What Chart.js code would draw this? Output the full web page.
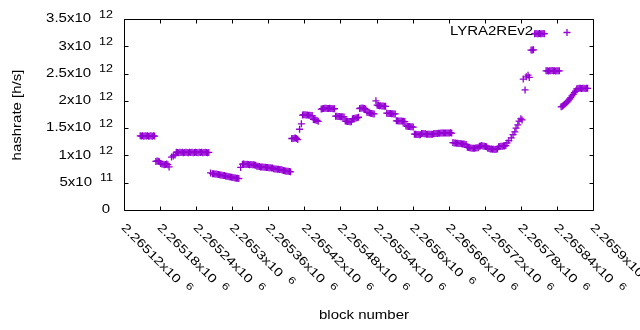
<!DOCTYPE html>
<html>
<head>
<meta charset="utf-8">
<script src="https://cdn.jsdelivr.net/npm/chart.js@4.4.0/dist/chart.umd.min.js"></script>
<style>
  html, body { margin: 0; padding: 0; background: #fff; }
  canvas { display: block; }
</style>
</head>
<body>
<canvas id="chart" width="640" height="330"></canvas>
<script>
// block numbers and hashrate (in units of 10^12 h/s)
const blocks = [
    2265147, 2265149, 2265151, 2265153, 2265155, 2265157, 2265159, 2265161, 2265163, 2265165, 2265167, 2265169, 2265171,
    2265173, 2265175, 2265177, 2265179,
    2265181, 2265183, 2265185, 2265187, 2265189, 2265191, 2265193, 2265195,
    2265199, 2265202, 2265205,
    2265207, 2265209, 2265211, 2265213, 2265215, 2265217, 2265219, 2265221, 2265223, 2265225, 2265227, 2265229, 2265231, 2265233,
    2265235, 2265237, 2265239, 2265241, 2265243, 2265245, 2265247, 2265249, 2265251, 2265253, 2265255, 2265257, 2265259, 2265261,
    2265264,
    2265267, 2265269, 2265271, 2265273, 2265275, 2265277, 2265279, 2265281, 2265283, 2265285, 2265287, 2265289,
    2265291, 2265293, 2265295, 2265297, 2265299, 2265301, 2265303, 2265305, 2265307, 2265309, 2265311,
    2265314,
    2265317, 2265319, 2265321, 2265323, 2265325, 2265327, 2265329, 2265331, 2265333, 2265335, 2265337, 2265339,
    2265341, 2265343, 2265345, 2265347, 2265349, 2265351, 2265353, 2265355, 2265357, 2265359, 2265361, 2265363, 2265365, 2265367,
    2265369, 2265371, 2265373, 2265375, 2265377, 2265379, 2265381, 2265383,
    2265385, 2265387, 2265389, 2265391, 2265393, 2265395, 2265397,
    2265399, 2265401, 2265403, 2265405, 2265407, 2265409,
    2265412, 2265415,
    2265417, 2265419, 2265421, 2265423, 2265425, 2265427, 2265429, 2265431, 2265433,
    2265435, 2265437, 2265439, 2265441, 2265443,
    2265448, 2265450, 2265452, 2265454, 2265456, 2265458, 2265460, 2265462, 2265464, 2265466, 2265468, 2265470,
    2265472, 2265474, 2265476, 2265478, 2265480, 2265482, 2265484, 2265486,
    2265488, 2265490, 2265492, 2265494, 2265496, 2265498,
    2265500, 2265502, 2265504, 2265506, 2265508, 2265510,
    2265512, 2265514, 2265516, 2265518, 2265520, 2265522,
    2265524, 2265526, 2265528, 2265530, 2265532, 2265534, 2265536,
    2265539, 2265541, 2265543, 2265545, 2265547, 2265549, 2265551, 2265553, 2265555,
    2265557, 2265559, 2265561, 2265563, 2265565, 2265567, 2265569, 2265571,
    2265573, 2265575, 2265577, 2265579, 2265581, 2265583, 2265585, 2265587,
    2265589, 2265591, 2265593, 2265595, 2265597, 2265599, 2265601,
    2265603, 2265605, 2265607, 2265609, 2265611, 2265613,
    2265615, 2265617, 2265619, 2265621, 2265623, 2265625, 2265627, 2265629, 2265631, 2265633, 2265635, 2265637, 2265639,
    2265641, 2265643, 2265645, 2265647, 2265649, 2265651, 2265653, 2265655, 2265657, 2265659, 2265661, 2265663, 2265665,
    2265667, 2265669, 2265671, 2265673, 2265675, 2265677, 2265679, 2265681, 2265683, 2265685, 2265687, 2265689,
    2265691, 2265693, 2265695, 2265697, 2265699, 2265701, 2265703, 2265705, 2265707, 2265709,
    2265711, 2265713, 2265715, 2265717, 2265719, 2265721, 2265723,
    2265725, 2265727, 2265729, 2265731, 2265733, 2265735, 2265737, 2265739, 2265741,
    2265743, 2265745, 2265747, 2265749, 2265751, 2265753, 2265755,
    2265757, 2265760, 2265764, 2265767, 2265770, 2265772, 2265775, 2265777, 2265780, 2265782,
    2265784, 2265787, 2265789, 2265792, 2265794,
    2265797, 2265799, 2265801,
    2265803, 2265805, 2265807, 2265809, 2265811, 2265813, 2265815, 2265817, 2265819,
    2265822, 2265824, 2265826, 2265828, 2265830, 2265832, 2265834, 2265836, 2265838, 2265840, 2265842, 2265844,
    2265847, 2265849, 2265851, 2265853, 2265855, 2265857, 2265859, 2265861, 2265863, 2265865, 2265867, 2265869, 2265871,
    2265873, 2265875, 2265877, 2265879, 2265881, 2265883, 2265885, 2265887, 2265889, 2265891
];
const hashrate = [
    1.36, 1.355, 1.36, 1.35, 1.36, 1.355, 1.36, 1.35, 1.355, 1.36, 1.35, 1.36, 1.355,
    0.89, 0.90, 0.895, 0.885,
    0.85, 0.845, 0.84, 0.83, 0.835, 0.845, 0.83, 0.79,
    0.97, 0.99, 1.01,
    1.06, 1.055, 1.05, 1.06, 1.055, 1.06, 1.05, 1.055, 1.06, 1.055, 1.05, 1.06, 1.055, 1.06,
    1.05, 1.055, 1.06, 1.055, 1.05, 1.06, 1.055, 1.06, 1.05, 1.055, 1.06, 1.055, 1.05, 1.055,
    0.68,
    0.665, 0.665, 0.66, 0.66, 0.655, 0.65, 0.645, 0.64, 0.635, 0.63, 0.63, 0.625,
    0.62, 0.615, 0.61, 0.605, 0.60, 0.595, 0.59, 0.585, 0.58, 0.58, 0.575,
    0.78,
    0.84, 0.845, 0.84, 0.835, 0.84, 0.835, 0.83, 0.835, 0.83, 0.83, 0.825, 0.82,
    0.80, 0.80, 0.795, 0.79, 0.79, 0.79, 0.785, 0.785, 0.78, 0.78, 0.775, 0.775, 0.77, 0.77,
    0.755, 0.75, 0.75, 0.745, 0.745, 0.74, 0.74, 0.735,
    0.725, 0.72, 0.715, 0.71, 0.71, 0.705, 0.70,
    1.31, 1.31, 1.315, 1.32, 1.31, 1.29,
    1.48, 1.58,
    1.74, 1.745, 1.745, 1.74, 1.74, 1.735, 1.735, 1.73, 1.73,
    1.66, 1.655, 1.65, 1.64, 1.625,
    1.85, 1.855, 1.86, 1.865, 1.865, 1.86, 1.86, 1.865, 1.86, 1.86, 1.855, 1.855,
    1.72, 1.72, 1.715, 1.715, 1.71, 1.71, 1.71, 1.705,
    1.63, 1.625, 1.62, 1.62, 1.615, 1.615,
    1.67, 1.675, 1.68, 1.685, 1.69, 1.70,
    1.86, 1.865, 1.87, 1.865, 1.86, 1.85,
    1.79, 1.785, 1.78, 1.775, 1.77, 1.765, 1.76,
    2.00, 1.92, 1.915, 1.91, 1.91, 1.905, 1.905, 1.90, 1.90,
    1.775, 1.77, 1.77, 1.77, 1.765, 1.765, 1.76, 1.76,
    1.635, 1.635, 1.63, 1.63, 1.63, 1.625, 1.625, 1.62,
    1.54, 1.535, 1.53, 1.53, 1.525, 1.525, 1.52,
    1.39, 1.39, 1.385, 1.385, 1.38, 1.38,
    1.40, 1.40, 1.395, 1.395, 1.39, 1.39, 1.39, 1.39, 1.39, 1.39, 1.395, 1.40, 1.40,
    1.40, 1.405, 1.405, 1.41, 1.41, 1.41, 1.41, 1.41, 1.41, 1.41, 1.41, 1.415, 1.41,
    1.235, 1.23, 1.23, 1.225, 1.225, 1.22, 1.22, 1.215, 1.21, 1.21, 1.205, 1.20,
    1.15, 1.145, 1.14, 1.135, 1.13, 1.13, 1.13, 1.135, 1.14, 1.14,
    1.17, 1.175, 1.18, 1.175, 1.17, 1.165, 1.16,
    1.13, 1.125, 1.12, 1.12, 1.115, 1.115, 1.11, 1.115, 1.12,
    1.16, 1.165, 1.17, 1.17, 1.175, 1.175, 1.18,
    1.23, 1.27, 1.32, 1.38, 1.43, 1.50, 1.56, 1.63, 1.67, 1.65,
    2.40, 2.20, 2.44, 2.47, 2.43,
    2.93, 2.93, 2.935,
    3.23, 3.235, 3.23, 3.23, 3.235, 3.23, 3.23, 3.235, 3.23,
    2.55, 2.55, 2.545, 2.55, 2.55, 2.555, 2.55, 2.55, 2.545, 2.55, 2.55, 2.55,
    1.89, 1.90, 1.92, 1.94, 1.96, 1.98, 2.00, 2.03, 2.06, 2.09, 2.12, 2.15, 2.18,
    2.22, 2.225, 2.23, 2.23, 2.225, 2.23, 2.23, 2.225, 2.23, 2.23
];

const seriesName = 'LYRA2REv2';
const seriesColor = '#9400d3';

const xTicks = [2265120, 2265180, 2265240, 2265300, 2265360, 2265420, 2265480,
                2265540, 2265600, 2265660, 2265720, 2265780, 2265840, 2265900];
const xTickLabels = ['2.26512x10', '2.26518x10', '2.26524x10', '2.2653x10', '2.26536x10', '2.26542x10', '2.26548x10',
                     '2.26554x10', '2.2656x10', '2.26566x10', '2.26572x10', '2.26578x10', '2.26584x10', '2.2659x10'];
const xTickExps = ['6', '6', '6', '6', '6', '6', '6', '6', '6', '6', '6', '6', '6', '6'];

const yTicks = [0, 0.5e12, 1e12, 1.5e12, 2e12, 2.5e12, 3e12, 3.5e12];
const yTickLabels = ['0', '5x10', '1x10', '1.5x10', '2x10', '2.5x10', '3x10', '3.5x10'];
const yTickExps = ['', '11', '12', '12', '12', '12', '12', '12'];

const xTitle = 'block number';
const yTitle = 'hashrate [h/s]';

if (blocks.length !== hashrate.length) {
    throw new Error('length mismatch ' + blocks.length + ' vs ' + hashrate.length);
}
const points = blocks.map((b, i) => ({ x: b, y: hashrate[i] * 1e12 }));

const FONT = '"Liberation Sans", Arial, sans-serif';
const STRETCH = 1.25;

// text drawn slightly stretched sideways, like the gnuplot output
function drawText(ctx, str, x, y, size, align, angle) {
    ctx.save();
    ctx.translate(x, y);
    ctx.rotate(angle || 0);
    ctx.scale(STRETCH, 1);
    ctx.font = size + 'px ' + FONT;
    ctx.textAlign = align;
    ctx.textBaseline = 'middle';
    ctx.fillStyle = '#000';
    ctx.fillText(str, 0, 0);
    ctx.restore();
}

function textWidth(ctx, str, size) {
    ctx.save();
    ctx.font = size + 'px ' + FONT;
    const w = ctx.measureText(str).width * STRETCH;
    ctx.restore();
    return w;
}

const gnuplotFrame = {
    id: 'gnuplotFrame',
    afterDraw(chart) {
        const ctx = chart.ctx;
        const area = chart.chartArea;
        const xs = chart.scales.x;
        const ys = chart.scales.y;
        const L = Math.round(area.left) + 0.5;
        const R = Math.round(area.right) + 0.5;
        const T = Math.round(area.top) + 0.5;
        const B = Math.round(area.bottom) + 0.5;
        const tick = 4;

        ctx.save();
        ctx.strokeStyle = '#000';
        ctx.lineWidth = 1;
        ctx.beginPath();
        ctx.rect(L, T, R - L, B - T);

        // inward ticks, mirrored on all four sides
        xTicks.forEach(v => {
            const px = Math.round(xs.getPixelForValue(v)) + 0.5;
            ctx.moveTo(px, B); ctx.lineTo(px, B - tick);
            ctx.moveTo(px, T); ctx.lineTo(px, T + tick);
        });
        yTicks.forEach(v => {
            const py = Math.round(ys.getPixelForValue(v)) + 0.5;
            ctx.moveTo(L, py); ctx.lineTo(L + tick, py);
            ctx.moveTo(R, py); ctx.lineTo(R - tick, py);
        });
        ctx.stroke();
        ctx.restore();

        // y tick labels
        yTicks.forEach((v, i) => {
            const py = ys.getPixelForValue(v);
            const exp = yTickExps[i];
            if (!exp) {
                drawText(ctx, yTickLabels[i], 110, py, 12, 'right');
                return;
            }
            const right = 113;
            const ew = textWidth(ctx, exp, 10);
            drawText(ctx, exp, right, py - 4, 10, 'right');
            drawText(ctx, yTickLabels[i], right - ew - 8, py, 12, 'right');
        });

        // x tick labels, rotated 45 degrees down to the right
        const ang = Math.PI / 4;
        xTicks.forEach((v, i) => {
            const px = xs.getPixelForValue(v);
            const ox = px - 1;
            const oy = 226;
            const mw = textWidth(ctx, xTickLabels[i], 12);
            drawText(ctx, xTickLabels[i], ox, oy, 12, 'left', ang);
            // superscript along the rotated baseline, raised a little
            const d = mw + 8;
            const up = -4;
            const ex = ox + d * Math.cos(ang) - up * Math.sin(ang);
            const ey = oy + d * Math.sin(ang) + up * Math.cos(ang);
            drawText(ctx, xTickExps[i], ex, ey, 10, 'left', ang);
        });

        // axis titles
        drawText(ctx, yTitle, 18, 115, 12, 'center', -Math.PI / 2);
        drawText(ctx, xTitle, 364, 316, 12, 'center');

        // key
        drawText(ctx, seriesName, 533, 32, 12, 'right');
        ctx.save();
        ctx.strokeStyle = seriesColor;
        ctx.lineWidth = 1.3;
        ctx.beginPath();
        ctx.moveTo(563.5, 32.5); ctx.lineTo(570.5, 32.5);
        ctx.moveTo(567, 29); ctx.lineTo(567, 36);
        ctx.stroke();
        ctx.restore();
    }
};

new Chart(document.getElementById('chart').getContext('2d'), {
    type: 'scatter',
    data: {
        datasets: [{
            label: seriesName,
            data: points,
            pointStyle: 'cross',
            pointRadius: 3.5,
            pointHoverRadius: 3.5,
            borderColor: seriesColor,
            backgroundColor: seriesColor,
            borderWidth: 1.3,
            showLine: false
        }]
    },
    options: {
        responsive: false,
        animation: false,
        events: [],
        layout: {
            padding: { left: 124, right: 47, top: 19, bottom: 120 }
        },
        plugins: {
            legend: { display: false },
            tooltip: { enabled: false }
        },
        scales: {
            x: {
                type: 'linear',
                display: false,
                min: 2265120,
                max: 2265900
            },
            y: {
                type: 'linear',
                display: false,
                min: 0,
                max: 3.5e12
            }
        }
    },
    plugins: [gnuplotFrame]
});
</script>
</body>
</html>
